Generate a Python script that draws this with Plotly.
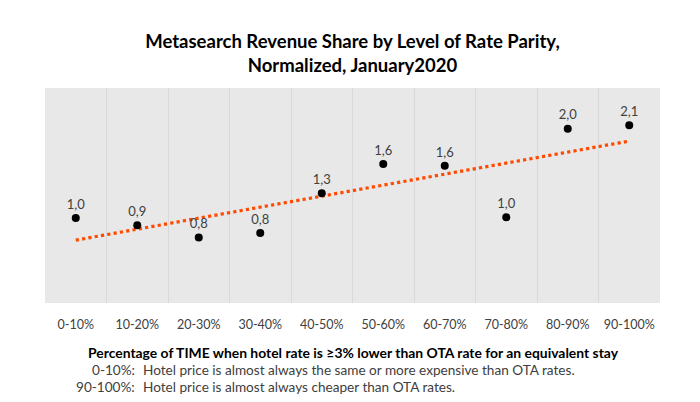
import plotly.graph_objects as go

categories = ["0-10%", "10-20%", "20-30%", "30-40%", "40-50%",
              "50-60%", "60-70%", "70-80%", "80-90%", "90-100%"]
values = [1.00, 0.92, 0.78, 0.83, 1.28, 1.61, 1.59, 1.01, 2.01, 2.05]
labels = ["1,0", "0,9", "0,8", "0,8", "1,3", "1,6", "1,6", "1,0", "2,0", "2,1"]
trend_x = [categories[0], categories[-1]]
trend_y = [0.75, 1.87]

title_text = "Metasearch Revenue Share by Level of Rate Parity,<br>Normalized, January2020"
xaxis_title = "Percentage of TIME when hotel rate is ≥3% lower than OTA rate for an equivalent stay"
note_keys = ["0-10%:", "90-100%:"]
note_texts = ["Hotel price is almost always the same or more expensive than OTA rates.",
              "Hotel price is almost always cheaper than OTA rates."]

W, H = 700, 402
ML, MR, MT, MB = 45, 40, 88, 99
PW = W - ML - MR
PH = H - MT - MB
FONT = "Lato"

fig = go.Figure()
fig.add_trace(go.Scatter(
    x=trend_x, y=trend_y, mode="lines",
    line=dict(color="#FF4A00", width=3.2, dash="dot"),
    hoverinfo="skip", showlegend=False))
fig.add_trace(go.Scatter(
    x=categories, y=values, mode="markers+text",
    marker=dict(color="black", size=8),
    text=labels, textposition="top center",
    textfont=dict(family=FONT, size=13, color="#404040"),
    showlegend=False))

fig.update_layout(
    width=W, height=H,
    margin=dict(l=ML, r=MR, t=MT, b=MB),
    paper_bgcolor="white", plot_bgcolor="#e8e8e8",
    font=dict(family=FONT, color="#404040"),
    title=dict(text=title_text, x=0.5, xref="paper", xanchor="center",
               y=1 - 48 / H, yanchor="top",
               font=dict(family=FONT, size=18.5, color="black", weight="bold")),
    xaxis=dict(type="category", categoryorder="array", categoryarray=categories,
               tickson="boundaries", showgrid=True, gridcolor="#d9d9d9", gridwidth=1,
               ticks="", showline=False, zeroline=False, ticklabelstandoff=12,
               tickfont=dict(family=FONT, size=12.5, color="#404040"),
               range=[-0.5, 9.5]),
    yaxis=dict(range=[0.04, 2.47], showgrid=False, showticklabels=False,
               zeroline=False, showline=False, ticks=""),
)

def px_to_paper_x(px):
    return (px - ML) / PW

def py_to_paper_y(py):
    return (H - MB - py) / PH

fig.add_annotation(text="<b>" + xaxis_title + "</b>", xref="paper", yref="paper",
                   x=px_to_paper_x(353), y=py_to_paper_y(352), xanchor="center", yanchor="middle",
                   showarrow=False, font=dict(family=FONT, size=13.9, color="black"))
for i, (k, t) in enumerate(zip(note_keys, note_texts)):
    yy = py_to_paper_y(370 + 17 * i)
    fig.add_annotation(text=k, xref="paper", yref="paper", x=px_to_paper_x(137), y=yy,
                       xanchor="right", yanchor="middle", showarrow=False,
                       font=dict(family=FONT, size=13.6, color="#404040"))
    fig.add_annotation(text=t, xref="paper", yref="paper", x=px_to_paper_x(141), y=yy,
                       xanchor="left", yanchor="middle", showarrow=False,
                       font=dict(family=FONT, size=13.6, color="#404040"))

fig.write_html("out.html", config={"displayModeBar": False},
               post_script="document.body.style.margin='0';")
